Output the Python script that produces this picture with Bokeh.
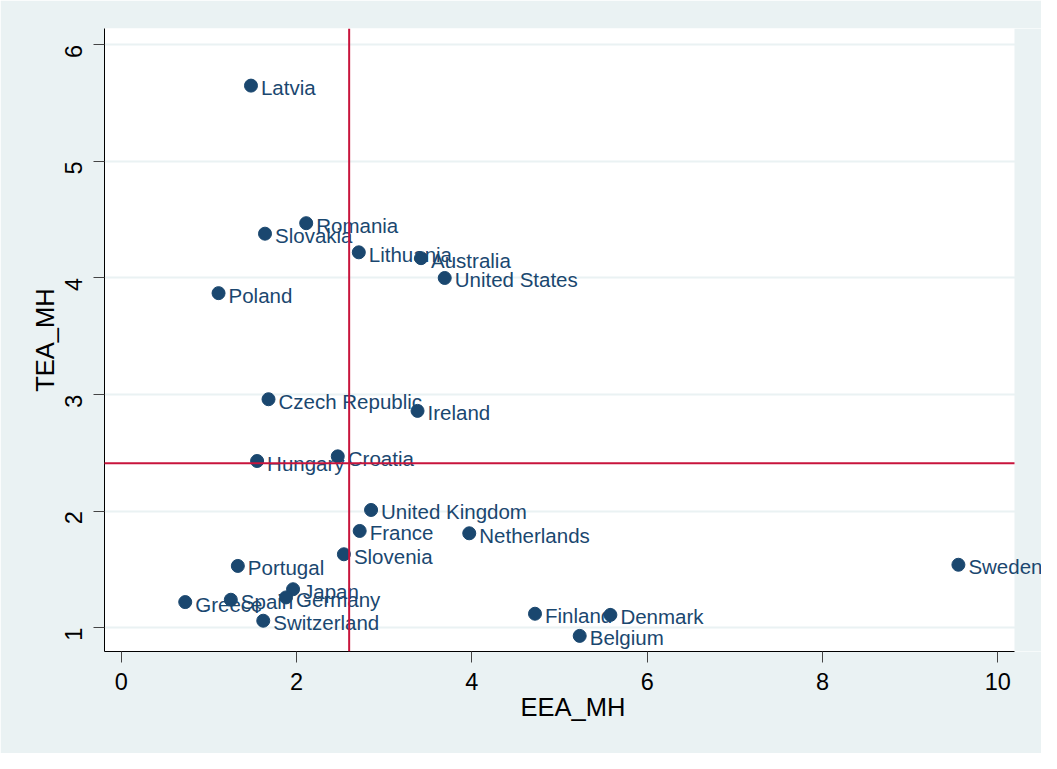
import math
from bokeh.plotting import figure
from bokeh.models import ColumnDataSource, Range1d, Span, LabelSet, FixedTicker, BoxAnnotation
from bokeh.core.properties import value
from bokeh.embed import file_html
from bokeh.resources import INLINE

countries = ["Latvia", "Romania", "Slovakia", "Lithuania", "Australia", "United States",
             "Poland", "Czech Republic", "Ireland", "Croatia", "Hungary", "United Kingdom",
             "France", "Netherlands", "Slovenia", "Portugal", "Sweden", "Japan", "Germany",
             "Spain", "Greece", "Finland", "Denmark", "Switzerland", "Belgium"]
eea_mh = [1.48, 2.11, 1.64, 2.71, 3.42, 3.69,
          1.11, 1.68, 3.38, 2.47, 1.55, 2.85,
          2.72, 3.97, 2.54, 1.33, 9.55, 1.96, 1.88,
          1.25, 0.73, 4.72, 5.58, 1.62, 5.23]
tea_mh = [5.65, 4.47, 4.38, 4.22, 4.17, 4.00,
          3.87, 2.96, 2.86, 2.47, 2.43, 2.01,
          1.83, 1.81, 1.63, 1.53, 1.54, 1.33, 1.26,
          1.24, 1.22, 1.12, 1.11, 1.06, 0.93]
x_ticks = [0, 2, 4, 6, 8, 10]
y_ticks = [1, 2, 3, 4, 5, 6]
x_ref = 2.6
y_ref = 2.41

BG = "#eaf2f3"
NAVY = "#1a476f"
RED = "#c8143c"
FONT = "Liberation Sans"

X0, X1 = -0.191, 10.19          # visible plot region in x
X_EXT = 10.498                   # frame extended to figure edge (area beyond X1 painted as background)

src = ColumnDataSource(dict(name=countries, x=eea_mh, y=tea_mh))

p = figure(frame_width=937, frame_height=623,
           min_border_left=104, min_border_top=28, min_border_right=0, min_border_bottom=102,
           x_range=Range1d(X0, X_EXT), y_range=Range1d(0.796, 6.14),
           output_backend="svg", toolbar_location=None)
p.border_fill_color = BG
p.background_fill_color = "white"
p.outline_line_color = None

# grid
p.xgrid.visible = False
p.ygrid.grid_line_color = BG
p.ygrid.grid_line_width = 2
p.ygrid.ticker = FixedTicker(ticks=y_ticks)

# cover the frame beyond the plot region with the background colour
p.add_layout(BoxAnnotation(left=X1, fill_color=BG, fill_alpha=1.0, line_color=None,
                           level="underlay"))

for ax in (p.xaxis[0], p.yaxis[0]):
    ax.axis_line_color = "black"
    ax.axis_line_width = 1
    ax.major_tick_line_color = "#444444"
    ax.major_tick_out = 11
    ax.major_tick_in = 0
    ax.minor_tick_line_color = None
    ax.major_label_text_font = FONT
    ax.major_label_text_font_size = "23.5px"
    ax.major_label_text_color = "black"
    ax.axis_label_text_font = FONT
    ax.axis_label_text_font_size = "25.5px"
    ax.axis_label_text_font_style = "normal"
    ax.axis_label_text_color = "black"

p.xaxis.ticker = FixedTicker(ticks=x_ticks)
p.xaxis.bounds = (X0, X1)
p.yaxis.ticker = FixedTicker(ticks=y_ticks)
p.xaxis.axis_label = "EEA_MH"
p.yaxis.axis_label = "TEA_MH"
p.xaxis.major_label_standoff = 10
p.xaxis.axis_label_standoff = 0
p.yaxis.major_label_orientation = math.pi / 2
p.yaxis.major_label_standoff = 20
p.yaxis.axis_label_standoff = -5

labels = LabelSet(x="x", y="y", text="name", source=src, level="annotation",
                  x_offset=10, y_offset=-2,
                  text_font=value(FONT), text_font_size="20.5px", text_color=NAVY,
                  text_baseline="middle", text_align="left")
p.renderers.append(labels)

dots = p.scatter("x", "y", source=src, size=13, fill_color=NAVY, line_color=NAVY,
                 level="annotation")

p.renderers.append(Span(location=x_ref, dimension="height", line_color=RED, line_width=2))
p.segment(x0=[X0], y0=[y_ref], x1=[X1], y1=[y_ref], line_color=RED, line_width=2,
          level="annotation")

open("out.html", "w").write(file_html(p, INLINE))
